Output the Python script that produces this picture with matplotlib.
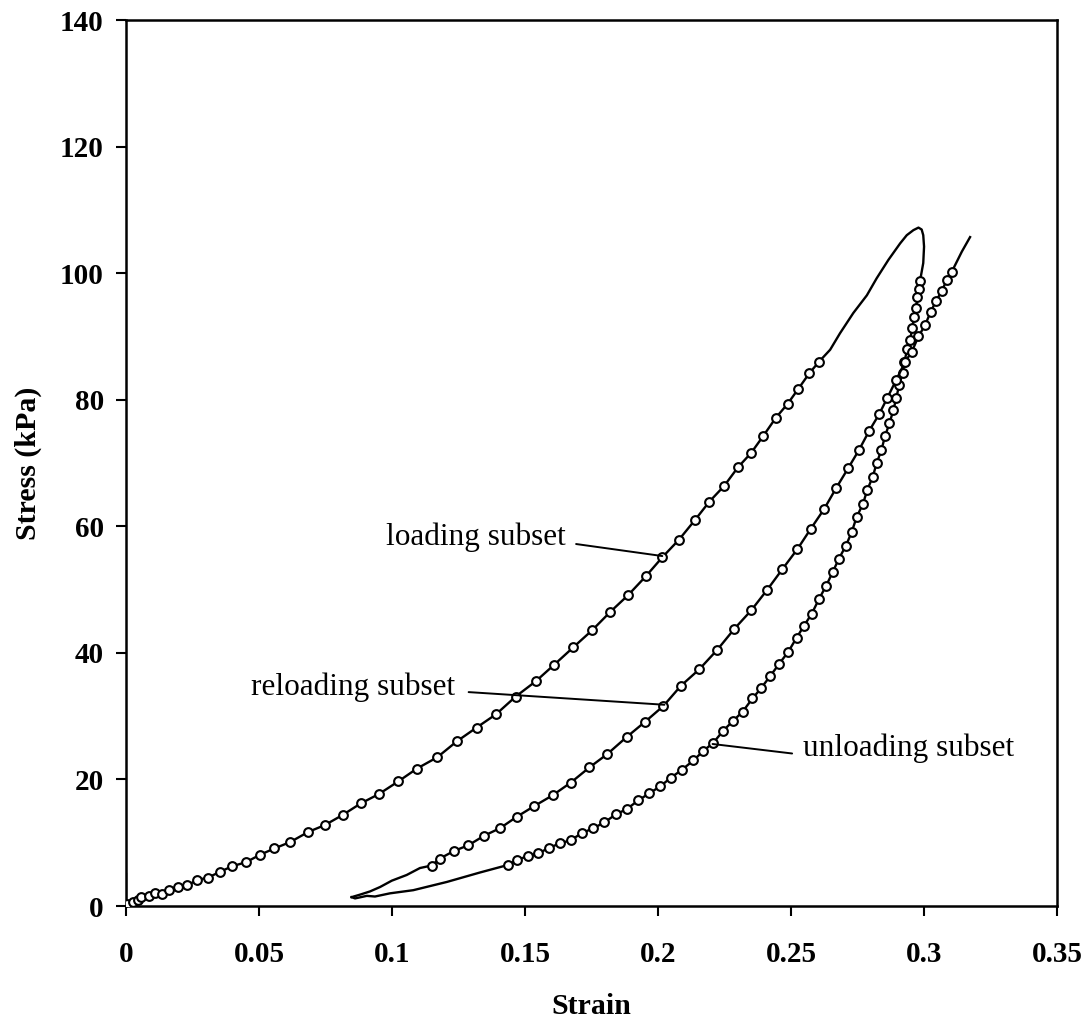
import matplotlib
matplotlib.use("Agg")
import matplotlib.pyplot as plt

# loading subset: points shown with markers, then the plain run up to the peak
load_strain = [0.0, 0.0003, 0.0005, 0.0027, 0.0046, 0.0055, 0.0088, 0.0109, 0.0134,
               0.0163, 0.0197, 0.0231, 0.0268, 0.0309, 0.0353, 0.0400, 0.0450,
               0.0504, 0.0558, 0.0617, 0.0685, 0.0748, 0.0815, 0.0882, 0.0951,
               0.1024, 0.1093, 0.1170, 0.1243, 0.1318, 0.1391, 0.1465, 0.1540,
               0.1609, 0.1682, 0.1753, 0.1821, 0.1887, 0.1954, 0.2016, 0.2079,
               0.2139, 0.2193, 0.2249, 0.2300, 0.2350, 0.2396, 0.2442, 0.2488,
               0.2527, 0.2569, 0.2605]
load_stress = [0.0, 0.1, 0.3, 0.7, 1.0, 1.4, 1.6, 2.0, 1.9,
               2.5, 3.0, 3.3, 4.1, 4.5, 5.4, 6.3, 6.9,
               8.1, 9.1, 10.1, 11.7, 12.8, 14.4, 16.2, 17.7,
               19.7, 21.7, 23.5, 26.0, 28.2, 30.3, 33.1, 35.5,
               38.1, 40.9, 43.6, 46.5, 49.1, 52.1, 55.1, 57.9,
               61.0, 63.9, 66.4, 69.3, 71.6, 74.3, 77.1, 79.4,
               81.7, 84.2, 86.0]
load_tail_strain = [0.2605, 0.2647, 0.2684, 0.2734, 0.2785, 0.2822, 0.2866,
                    0.2910, 0.2935, 0.2960, 0.2979, 0.2991, 0.2997, 0.3000,
                    0.2997, 0.2985]
load_tail_stress = [86.0, 87.9, 90.5, 93.7, 96.5, 99.2, 102.1,
                    104.7, 106.0, 106.8, 107.2, 106.9, 106.0, 104.2,
                    101.6, 98.8]
spike_strain = [0.0, 0.0]
spike_stress = [5.0, 0.0]

# unloading subset
unload_strain = [0.2985, 0.2982, 0.2975, 0.2970, 0.2962, 0.2956, 0.2947, 0.2937,
                 0.2926, 0.2920, 0.2907, 0.2895, 0.2885, 0.2870, 0.2853, 0.2840,
                 0.2822, 0.2807, 0.2787, 0.2770, 0.2747, 0.2728, 0.2706, 0.2680,
                 0.2657, 0.2632, 0.2605, 0.2578, 0.2549, 0.2521, 0.2490, 0.2456,
                 0.2421, 0.2387, 0.2355, 0.2318, 0.2283, 0.2245, 0.2208, 0.2170,
                 0.2133, 0.2089, 0.2049, 0.2008, 0.1967, 0.1926, 0.1882, 0.1842,
                 0.1798, 0.1757, 0.1713, 0.1672, 0.1632, 0.1590, 0.1550, 0.1512,
                 0.1471, 0.1437]
unload_stress = [98.8, 97.5, 96.2, 94.5, 93.1, 91.3, 89.4, 88.0,
                 86.0, 84.3, 82.4, 80.2, 78.4, 76.3, 74.2, 72.1,
                 70.0, 67.8, 65.8, 63.5, 61.5, 59.1, 56.9, 54.9,
                 52.8, 50.6, 48.5, 46.2, 44.3, 42.4, 40.2, 38.3,
                 36.3, 34.4, 32.8, 30.7, 29.3, 27.7, 25.8, 24.5,
                 23.0, 21.5, 20.3, 18.9, 17.8, 16.7, 15.3, 14.5,
                 13.2, 12.3, 11.5, 10.4, 9.9, 9.2, 8.3, 7.9,
                 7.3, 6.5]
unload_tail_strain = [0.1437, 0.1331, 0.1206, 0.1080, 0.0992, 0.0936, 0.0905,
                      0.0861, 0.0848]
unload_tail_stress = [6.5, 5.3, 3.8, 2.5, 2.0, 1.5, 1.6, 1.2, 1.4]

# reloading subset
reload_head_strain = [0.0848, 0.0880, 0.0917, 0.0955, 0.0999, 0.1055, 0.1105, 0.1149]
reload_head_stress = [1.4, 1.8, 2.3, 3.0, 4.0, 4.9, 6.0, 6.4]
reload_strain = [0.1149, 0.1180, 0.1233, 0.1287, 0.1346, 0.1406, 0.1469, 0.1535,
                 0.1604, 0.1672, 0.1742, 0.1809, 0.1882, 0.1951, 0.2020, 0.2086,
                 0.2155, 0.2223, 0.2287, 0.2350, 0.2411, 0.2467, 0.2524, 0.2574,
                 0.2624, 0.2669, 0.2715, 0.2756, 0.2794, 0.2831, 0.2862, 0.2895,
                 0.2929, 0.2954, 0.2979, 0.3004, 0.3025, 0.3045, 0.3067, 0.3085,
                 0.3104]
reload_stress = [6.4, 7.5, 8.7, 9.6, 11.1, 12.3, 14.1, 15.8,
                 17.5, 19.5, 21.9, 24.0, 26.7, 29.1, 31.6, 34.8,
                 37.4, 40.5, 43.8, 46.7, 50.0, 53.2, 56.4, 59.6,
                 62.7, 66.0, 69.2, 72.1, 75.1, 77.7, 80.3, 83.1,
                 86.0, 87.6, 90.0, 91.8, 93.9, 95.6, 97.2, 98.9,
                 100.2]
reload_tail_strain = [0.3104, 0.3142, 0.3173]
reload_tail_stress = [100.2, 103.4, 105.7]

x_ticks = [0, 0.05, 0.1, 0.15, 0.2, 0.25, 0.3, 0.35]
x_tick_labels = ["0", "0.05", "0.1", "0.15", "0.2", "0.25", "0.3", "0.35"]
y_ticks = [0, 20, 40, 60, 80, 100, 120, 140]

plt.rcParams['font.family'] = ['Liberation Serif', 'DejaVu Serif']

fig = plt.figure(figsize=(10.92, 10.22), dpi=100)
ax = fig.add_axes([0.1154, 0.1135, 0.8526, 0.8669])

line_kw = dict(color='black', linewidth=1.7, zorder=2)
mark_kw = dict(color='black', linewidth=1.7, marker='o', markersize=6.3,
               markerfacecolor='white', markeredgecolor='black',
               markeredgewidth=1.5, zorder=3)

ax.plot(spike_strain, spike_stress, **line_kw)
ax.plot(load_tail_strain, load_tail_stress, **line_kw)
ax.plot(unload_tail_strain, unload_tail_stress, **line_kw)
ax.plot(reload_head_strain, reload_head_stress, **line_kw)
ax.plot(reload_tail_strain, reload_tail_stress, **line_kw)
ax.plot(load_strain, load_stress, **mark_kw)
ax.plot(unload_strain, unload_stress, **mark_kw)
ax.plot(reload_strain, reload_stress, **mark_kw)

# labels with leader lines
notes = [
    ("loading subset", (0.1654, 58.2), 'right', (0.1692, 57.2), (0.2016, 55.3)),
    ("reloading subset", (0.1237, 34.5), 'right', (0.1288, 33.8), (0.2024, 31.8)),
    ("unloading subset", (0.2545, 25.0), 'left', (0.2504, 24.1), (0.2205, 25.6)),
]
for txt, tpos, ha, lstart, lend in notes:
    ax.text(tpos[0], tpos[1], txt, ha=ha, va='center', fontsize=22.5)
    ax.annotate("", xy=lend, xytext=lstart,
                arrowprops=dict(arrowstyle='-', color='black', linewidth=1.4,
                                shrinkA=0, shrinkB=0))

ax.set_xlim(0, 0.35)
ax.set_ylim(0, 140)
ax.set_xticks(x_ticks)
ax.set_xticklabels(x_tick_labels)
ax.set_yticks(y_ticks)
for lab in ax.get_xticklabels() + ax.get_yticklabels():
    lab.set_fontweight('bold')
ax.tick_params(axis='both', direction='out', length=7, width=1.5, labelsize=21)
ax.tick_params(axis='x', pad=18)
ax.tick_params(axis='y', pad=9)
for sp in ax.spines.values():
    sp.set_linewidth(1.8)

ax.set_xlabel("Strain", fontsize=21.5, fontweight='bold', labelpad=18)
ax.set_ylabel("Stress (kPa)", fontsize=21.5, fontweight='bold', labelpad=13)

fig.savefig("out.png", dpi=100)
